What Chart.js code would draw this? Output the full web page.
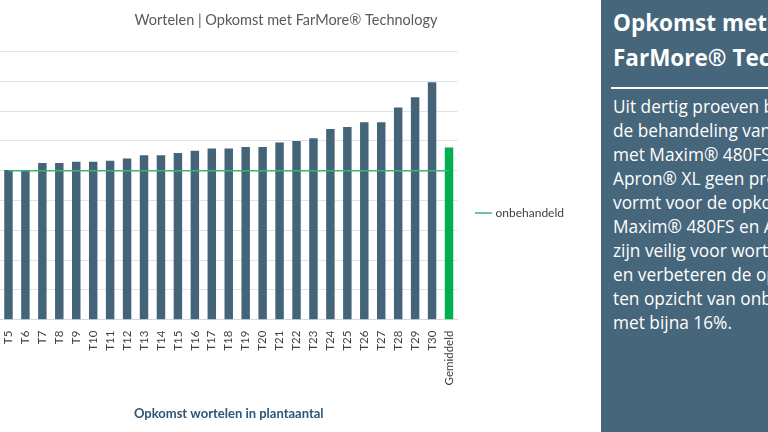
<!DOCTYPE html>
<html>
<head>
<meta charset="utf-8">
<script src="https://cdn.jsdelivr.net/npm/chart.js@4"></script>
<style>
  body { margin: 0; width: 768px; height: 432px; overflow: hidden; background: #fff; font-family: Lato, sans-serif; }
  #wrap { position: absolute; left: 0; top: 0; width: 600px; height: 432px; }
  #panel { position: absolute; left: 601px; top: 0; width: 167px; height: 432px; background: #46667b; color: #fff; overflow: hidden; white-space: nowrap; font-family: "Open Sans", sans-serif; }
  #panel h2 { margin: 5px 0 0 12px; font-size: 22.5px; line-height: 35px; font-weight: bold; }
  #panel hr { border: 0; border-top: 2px solid #fff; margin: 12px 0 0 10px; }
  #panel p { margin: 6px 0 0 12px; font-size: 17.3px; line-height: 24px; }
</style>
</head>
<body>
<div id="wrap"><canvas id="c" width="600" height="432"></canvas></div>
<div id="panel">
  <h2>Opkomst met<br>FarMore® Technology</h2>
  <hr>
  <p>Uit dertig proeven blijkt dat<br>de behandeling van wortelzaad<br>met Maxim® 480FS en<br>Apron® XL geen probleem<br>vormt voor de opkomst.<br>Maxim® 480FS en Apron® XL<br>zijn veilig voor wortelzaad<br>en verbeteren de opkomst<br>ten opzicht van onbehandeld<br>met bijna 16%.</p>
</div>
<script>
// trials visible in the picture (T1-T4 fall outside the crop)
const labels = ["T5","T6","T7","T8","T9","T10","T11","T12","T13","T14","T15","T16","T17","T18","T19","T20",
  "T21","T22","T23","T24","T25","T26","T27","T28","T29","T30","Gemiddeld"];
// emergence relative to untreated = 100
const opkomst = [100.4,100.4,105.1,105.1,106,106,106.7,108.2,110.4,110.4,111.8,113.3,114.9,114.9,115.8,115.8,
  118.9,119.8,121.8,128,129.3,132.4,132.4,142.4,149.3,159.3,115.6];
const onbehandeld = labels.map(() => 100);

const barColors = labels.map(l => l === "Gemiddeld" ? "#00b050" : "#44647a");

new Chart(document.getElementById("c"), {
  data: {
    labels: labels,
    datasets: [
      {
        type: "line",
        label: "onbehandeld",
        data: onbehandeld,
        borderColor: "#3cb371",
        borderWidth: 1.5,
        pointRadius: 0,
        order: 0
      },
      {
        type: "bar",
        label: "opkomst",
        data: opkomst,
        backgroundColor: barColors,
        barPercentage: 0.5,
        categoryPercentage: 1,
        order: 1
      }
    ]
  },
  options: {
    responsive: false,
    animation: false,
    layout: { padding: { left: -2, right: 26, top: 0, bottom: 6 } },
    plugins: {
      title: {
        display: true,
        text: "Wortelen | Opkomst met FarMore® Technology",
        color: "#595959",
        font: { family: "Lato", size: 14.5, weight: "normal" },
        padding: { top: 12, bottom: 22 }
      },
      legend: {
        position: "right",
        labels: {
          filter: item => item.text === "onbehandeld",
          usePointStyle: true,
          pointStyle: "line",
          color: "#404040",
          font: { family: "Lato", size: 12 },
          padding: 20
        }
      },
      tooltip: { enabled: false }
    },
    scales: {
      x: {
        grid: { display: false },
        border: { color: "#d9d9d9" },
        ticks: { minRotation: 90, maxRotation: 90, color: "#404040", font: { family: "Lato", size: 11.5 }, autoSkip: false },
        title: {
          display: true,
          text: "Opkomst wortelen in plantaantal",
          color: "#2f5574",
          font: { family: "Lato", size: 13, weight: "bold" },
          padding: { top: 18 }
        }
      },
      y: {
        display: true,
        min: 0,
        max: 180,
        ticks: { stepSize: 20, display: false },
        border: { display: false },
        grid: { color: "#e3e3e3", drawTicks: false }
      }
    }
  }
});
</script>
</body>
</html>
